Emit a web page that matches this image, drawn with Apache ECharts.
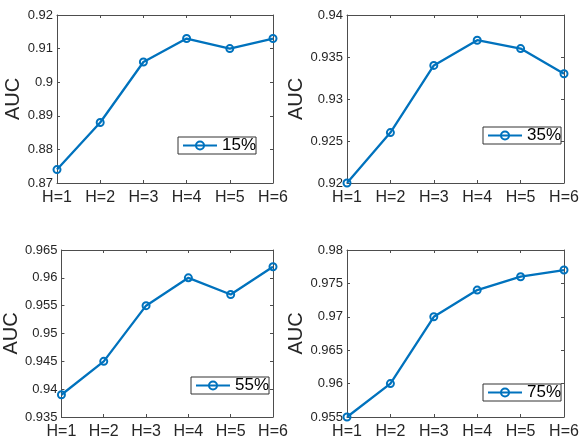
<!DOCTYPE html>
<html>
<head>
<meta charset="utf-8">
<script src="https://cdn.jsdelivr.net/npm/echarts@6/dist/echarts.min.js"></script>
<style>
html,body{margin:0;padding:0;background:#fff;}
#main{width:585px;height:441px;}
</style>
</head>
<body>
<div id="main"></div>
<script>
const categories = ['H=1', 'H=2', 'H=3', 'H=4', 'H=5', 'H=6'];
const seriesNames = ['15%', '35%', '55%', '75%'];
const auc15 = [0.874, 0.888, 0.906, 0.913, 0.910, 0.913];
const auc35 = [0.920, 0.926, 0.934, 0.937, 0.936, 0.933];
const auc55 = [0.939, 0.945, 0.955, 0.960, 0.957, 0.962];
const auc75 = [0.955, 0.960, 0.970, 0.974, 0.976, 0.977];
const yMin = [0.87, 0.92, 0.935, 0.955];
const yMax = [0.92, 0.94, 0.965, 0.98];
const yStep = [0.01, 0.005, 0.005, 0.005];
const yName = 'AUC';

const allData = [auc15, auc35, auc55, auc75];
const grids = [
  {left: 57, top: 15, width: 216, height: 168},
  {left: 347, top: 15, width: 217, height: 168},
  {left: 57, top: 250, width: 216, height: 167},
  {left: 347, top: 250, width: 217, height: 167}
];
const nameGaps = [28, 33, 29, 32];
const legendPos = [
  {left: 178, top: 137},
  {left: 483, top: 127},
  {left: 191, top: 377},
  {left: 483, top: 384}
];
const axisColor = '#4d4d4d';
const labelColor = '#262626';
const lineColor = '#0072BD';
const fontFam = '"Liberation Sans", Arial, sans-serif';

const xAxis = [], yAxis = [], series = [], legend = [];
for (let i = 0; i < 4; i++) {
  xAxis.push({
    type: 'category', gridIndex: i, data: categories, boundaryGap: false, position: 'bottom',
    axisLine: {show: true, lineStyle: {color: axisColor, width: 1}},
    axisTick: {show: true, inside: true, length: 3, lineStyle: {color: axisColor}},
    axisLabel: {color: labelColor, fontSize: 16, fontFamily: fontFam, margin: 7, interval: 0},
    splitLine: {show: false}
  });
  xAxis.push({
    type: 'category', gridIndex: i, data: categories, boundaryGap: false, position: 'top',
    axisLine: {show: true, lineStyle: {color: axisColor, width: 1}},
    axisTick: {show: true, inside: true, length: 3, lineStyle: {color: axisColor}},
    axisLabel: {show: false}, splitLine: {show: false}
  });
  yAxis.push({
    type: 'value', gridIndex: i, min: yMin[i], max: yMax[i], interval: yStep[i], position: 'left',
    name: yName, nameLocation: 'middle', nameGap: nameGaps[i], nameRotate: 90,
    nameTextStyle: {color: labelColor, fontSize: 20, fontFamily: fontFam},
    axisLine: {show: true, lineStyle: {color: axisColor, width: 1}},
    axisTick: {show: true, inside: true, length: 3, lineStyle: {color: axisColor}},
    axisLabel: {color: labelColor, fontSize: 13, fontFamily: fontFam, margin: 4,
      formatter: v => String(+v.toFixed(4))},
    splitLine: {show: false}
  });
  yAxis.push({
    type: 'value', gridIndex: i, min: yMin[i], max: yMax[i], interval: yStep[i], position: 'right',
    axisLine: {show: true, lineStyle: {color: axisColor, width: 1}},
    axisTick: {show: true, inside: true, length: 3, lineStyle: {color: axisColor}},
    axisLabel: {show: false}, splitLine: {show: false}
  });
  series.push({
    name: seriesNames[i], type: 'line', xAxisIndex: i * 2, yAxisIndex: i * 2,
    data: allData[i], clip: false,
    symbol: 'circle', symbolSize: 7,
    lineStyle: {color: lineColor, width: 2.3},
    itemStyle: {color: 'rgba(255,255,255,0)', borderColor: lineColor, borderWidth: 2},
    emphasis: {disabled: true}, animation: false
  });
  legend.push({
    data: [seriesNames[i]], left: legendPos[i].left, top: legendPos[i].top,
    orient: 'horizontal', itemWidth: 34, itemHeight: 10, itemTextGap: -3,
    padding: [0, 0, 0, 4], borderColor: '#333', borderWidth: 1, backgroundColor: '#fff',
    textStyle: {color: '#000', fontSize: 17, fontFamily: fontFam, lineHeight: 17},
    selectedMode: false
  });
}

const chart = echarts.init(document.getElementById('main'), null, {renderer: 'canvas'});
chart.setOption({
  animation: false,
  backgroundColor: '#fff',
  grid: grids.map(g => Object.assign({containLabel: false}, g)),
  xAxis: xAxis, yAxis: yAxis, series: series, legend: legend
});
</script>
</body>
</html>
